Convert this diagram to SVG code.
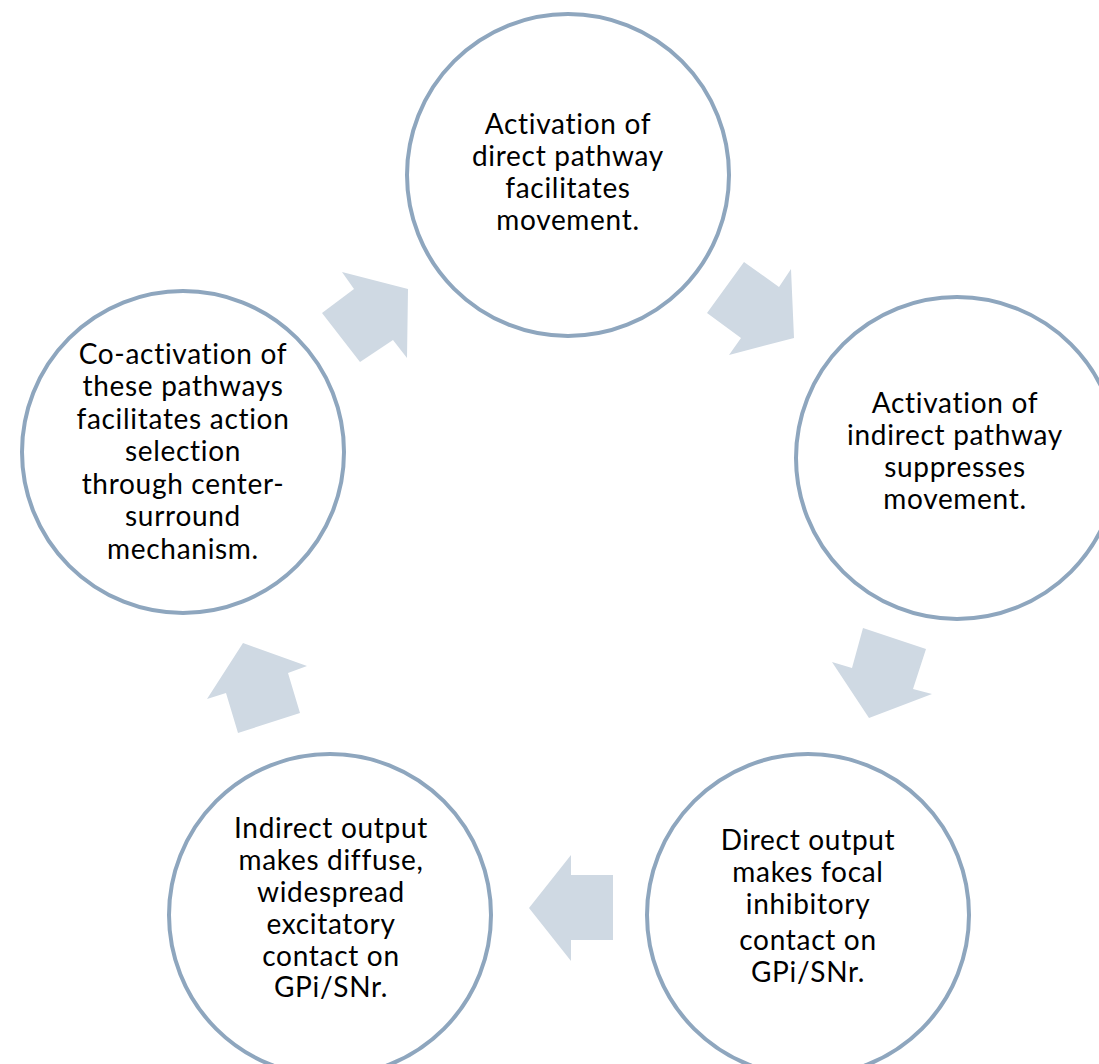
<svg xmlns="http://www.w3.org/2000/svg" width="1099" height="1064" viewBox="0 0 1099 1064">
  <style>
    .node { fill: #ffffff; stroke: #8ea6be; stroke-width: 4; }
    .label { font-family: Lato, "Open Sans", sans-serif; font-size: 28px; letter-spacing: 0.7px; fill: #000000; text-anchor: middle; }
    .arrow { fill: #cfd9e3; stroke: none; }
  </style>
  <rect width="1099" height="1064" fill="#ffffff"/>

  <!-- block arrows between the steps of the cycle -->
  <g id="connectors">
    <polygon class="arrow" points="342,272 408,289 407,358 393,340 360,362 322,313 354,289"/>
    <polygon class="arrow" points="744,262 779,287 791,269 794,338 729,355 741,338 707,313"/>
    <polygon class="arrow" points="863,628 926,649 913,689 932,694 869,718 832,662 852,668"/>
    <polygon class="arrow" points="571,855 571,875 613,875 613,940 571,940 571,961 529,908"/>
    <polygon class="arrow" points="243,643 307,666 288,673 300,713 238,733 226,693 207,699"/>
  </g>

  <g id="node-direct">
    <circle class="node" cx="568" cy="175" r="161"/>
    <text class="label" x="568" y="134">Activation of</text>
    <text class="label" x="568" y="166">direct pathway</text>
    <text class="label" x="568" y="198">facilitates</text>
    <text class="label" x="568" y="230">movement.</text>
  </g>

  <g id="node-indirect">
    <circle class="node" cx="957" cy="458" r="161"/>
    <text class="label" x="955" y="413">Activation of</text>
    <text class="label" x="955" y="445">indirect pathway</text>
    <text class="label" x="955" y="477">suppresses</text>
    <text class="label" x="955" y="509">movement.</text>
  </g>

  <g id="node-direct-output">
    <circle class="node" cx="808" cy="915" r="161"/>
    <text class="label" x="808" y="850">Direct output</text>
    <text class="label" x="808" y="882">makes focal</text>
    <text class="label" x="808" y="914">inhibitory</text>
    <text class="label" x="808" y="950">contact on</text>
    <text class="label" x="808" y="982">GPi/SNr.</text>
  </g>

  <g id="node-indirect-output">
    <circle class="node" cx="330" cy="915" r="161"/>
    <text class="label" x="331" y="838">Indirect output</text>
    <text class="label" x="331" y="870">makes diffuse,</text>
    <text class="label" x="331" y="902">widespread</text>
    <text class="label" x="331" y="934">excitatory</text>
    <text class="label" x="331" y="966">contact on</text>
    <text class="label" x="331" y="997">GPi/SNr.</text>
  </g>

  <g id="node-coactivation">
    <circle class="node" cx="183" cy="452" r="161"/>
    <text class="label" x="183" y="364">Co-activation of</text>
    <text class="label" x="183" y="396">these pathways</text>
    <text class="label" x="183" y="429">facilitates action</text>
    <text class="label" x="183" y="461">selection</text>
    <text class="label" x="183" y="494">through center-</text>
    <text class="label" x="183" y="526">surround</text>
    <text class="label" x="183" y="559">mechanism.</text>
  </g>
</svg>
